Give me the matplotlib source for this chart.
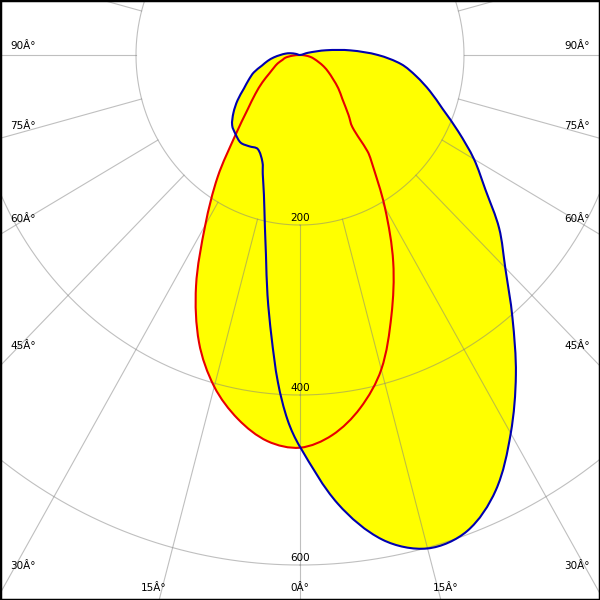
import numpy as np
import matplotlib.pyplot as plt
from matplotlib.path import Path
from matplotlib.patches import PathPatch

# C0 / C180 plane (blue): gamma in degrees from nadir, intensity in cd
blue_right_ang = [0, 5, 10, 15, 20, 25, 30, 35, 40, 45, 50, 55, 60, 65, 70, 75, 80, 85, 90, 95, 100, 105, 110]
blue_right_cd = [461, 530, 579, 601, 596, 565, 514, 459, 403, 354, 317, 276, 245, 213, 185, 164, 144, 124, 95, 62, 32, 10, 0]
blue_left_ang = [0, 2, 4, 6, 8, 10, 12, 15, 18, 20, 25, 30, 35, 40, 45, 50, 55, 60, 65, 70, 75, 80, 85, 90, 95, 100, 105, 110]
blue_left_cd = [461, 430, 386, 333, 285, 239, 206, 170, 147, 134, 122, 124, 126, 122, 117, 106, 93, 79, 69, 60, 48, 40, 32, 24, 18, 12, 5, 0]

# C90 / C270 plane (red)
red_right_ang = [0, 5, 10, 15, 20, 25, 30, 35, 36, 37, 40, 45, 50, 55, 60, 65, 70, 75, 80, 85, 90]
red_right_cd = [462, 449, 422, 383, 326, 269, 207, 151, 140, 106, 92, 73, 61, 49, 40, 32, 24, 18, 13, 6, 0]
red_left_ang = [0, 5, 10, 15, 20, 25, 30, 35, 40, 45, 50, 55, 60, 65, 70, 75, 80, 85, 90]
red_left_cd = [462, 456, 435, 404, 360, 300, 231, 175, 122, 90, 71, 56, 43, 35, 29, 22, 18, 9, 0]

ring_values = [200, 400, 600]
spoke_angles = list(range(-180, 181, 15))
angle_labels = [90, 75, 60, 45, 30, 15, 0]

W, H = 600, 600
cx, cy = 300, 55          # pole position in pixels (from top-left)
sx, sy = 0.82, 0.85       # pixels per cd, horizontal / vertical


def to_xy(left_ang, left_cd, right_ang, right_cd):
    ang = np.concatenate([-np.array(left_ang[::-1], float), np.array(right_ang[1:], float)])
    r = np.concatenate([np.array(left_cd[::-1], float), np.array(right_cd[1:], float)])
    t = np.radians(ang)
    return r * np.sin(t), -r * np.cos(t)


def smooth_closed_path(x, y):
    # closed curve through the points, drawn as cubic Bezier segments
    p = np.column_stack([x, y])[:-1]
    n = len(p)
    q = p * [sx, sy]
    d = np.linalg.norm(np.roll(q, -1, axis=0) - q, axis=1)
    d = np.maximum(d, 1e-6)
    d_prev = np.roll(d, 1)
    tang = (np.roll(p, -1, axis=0) - np.roll(p, 1, axis=0)) / (d_prev + d)[:, None]
    verts = [p[0]]
    codes = [Path.MOVETO]
    for i in range(n):
        j = (i + 1) % n
        verts += [p[i] + tang[i] * d[i] / 3, p[j] - tang[j] * d[i] / 3, p[j]]
        codes += [Path.CURVE4] * 3
    verts.append(p[0])
    codes.append(Path.CLOSEPOLY)
    return Path(verts, codes)


fig = plt.figure(figsize=(6, 6), dpi=100)
ax = fig.add_axes([0, 0, 1, 1])
ax.set_xlim(-cx / sx, (W - cx) / sx)
ax.set_ylim(-(H - cy) / sy, cy / sy)
ax.set_xticks([])
ax.set_yticks([])
for s in ax.spines.values():
    s.set_linewidth(2.5)
    s.set_color('black')

blue_path = smooth_closed_path(*to_xy(blue_left_ang, blue_left_cd, blue_right_ang, blue_right_cd))
red_path = smooth_closed_path(*to_xy(red_left_ang, red_left_cd, red_right_ang, red_right_cd))

ax.add_patch(PathPatch(blue_path, facecolor='#ffff00', edgecolor='none', zorder=1))
ax.add_patch(PathPatch(red_path, facecolor='#ffff00', edgecolor='none', zorder=1))

# grid
t = np.linspace(0, 2 * np.pi, 721)
for rv in ring_values:
    ax.plot(rv * np.sin(t), -rv * np.cos(t), color='#808080', lw=0.8, alpha=0.5, zorder=2)
for a in spoke_angles:
    ar = np.radians(a)
    ax.plot([200 * np.sin(ar), 1000 * np.sin(ar)], [-200 * np.cos(ar), -1000 * np.cos(ar)],
            color='#808080', lw=0.8, alpha=0.5, zorder=2)

for rv in ring_values:
    ax.text(0, -rv + 2, str(rv), ha='center', va='bottom', fontsize=7.5, zorder=3)

ax.add_patch(PathPatch(red_path, facecolor='none', edgecolor='#e80000', lw=1.5, zorder=4))
ax.add_patch(PathPatch(blue_path, facecolor='none', edgecolor='#0000b0', lw=1.5, zorder=5))

# angle labels near the picture edge (placed on an undistorted 0.85 px/cd scale)
for a in angle_labels:
    for side in (-1, 1):
        if a == 0 and side == 1:
            continue
        ar = np.radians(a)
        dx, dy = np.sin(ar), np.cos(ar)
        t_side = cx / dx if dx > 1e-9 else np.inf
        t_bot = (H - cy) / dy if dy > 1e-9 else np.inf
        label = f"{a}Â°"
        if t_side < t_bot:
            yy = cy + t_side * dy - 9
            if side < 0:
                fig.text(10 / W, 1 - yy / H, label, ha='left', va='center', fontsize=7.5)
            else:
                fig.text(590 / W, 1 - yy / H, label, ha='right', va='center', fontsize=7.5)
        else:
            xx = cx + side * t_bot * dx
            fig.text(xx / W, 1 - 588 / H, label, ha='center', va='center', fontsize=7.5)

fig.savefig('out.png', dpi=100)
